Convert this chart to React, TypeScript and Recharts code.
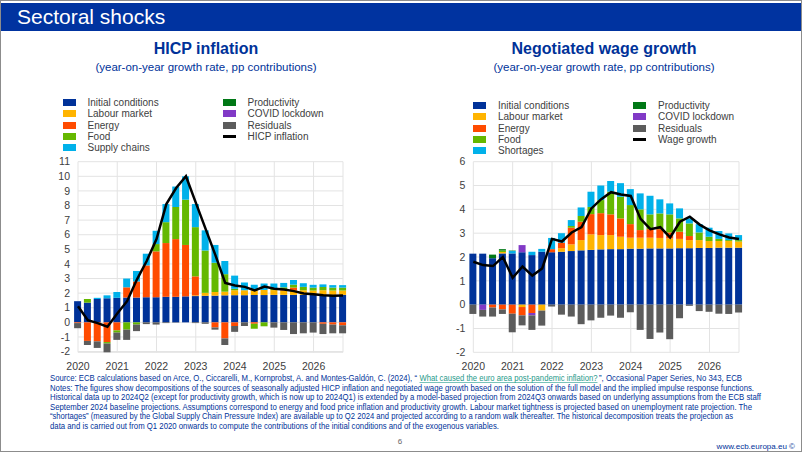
import { ComposedChart, Bar, Line, XAxis, YAxis, CartesianGrid } from 'recharts';

const quarters = [
  '2020Q1', '2020Q2', '2020Q3', '2020Q4', '2021Q1', '2021Q2', '2021Q3', '2021Q4',
  '2022Q1', '2022Q2', '2022Q3', '2022Q4', '2023Q1', '2023Q2', '2023Q3', '2023Q4',
  '2024Q1', '2024Q2', '2024Q3', '2024Q4', '2025Q1', '2025Q2', '2025Q3', '2025Q4',
  '2026Q1', '2026Q2', '2026Q3', '2026Q4',
];
const yearLabels = ['2020', '2021', '2022', '2023', '2024', '2025', '2026'];
const yearTicks = [0, 4, 8, 12, 16, 20, 24, 27];

// HICP inflation contributions
const hicpInitial = [1.45, 1.35, 1.6, 1.65, 1.68, 1.7, 1.7, 1.72, 1.72, 1.75, 1.75, 1.78, 1.8, 1.82, 1.83, 1.85, 1.86, 1.86, 1.87, 1.87, 1.88, 1.88, 1.88, 1.88, 1.88, 1.88, 1.88, 1.88];
const hicpLabour = [0, 0, 0, 0, 0, 0, 0, 0, 0, 0, 0, 0, 0.05, 0.2, 0.25, 0.25, 0.34, 0.34, 0.33, 0.35, 0.33, 0.3, 0.3, 0.32, 0.3, 0.32, 0.3, 0.3];
const hicpEnergy = [-0.05, -1.27, -1.3, -1.35, -0.55, 0.7, 1.1, 2.18, 3.14, 3.68, 3.95, 3.52, 1.3, 0, -0.35, -1.1, -0.25, 0, -0.1, 0, 0, 0.1, 0.2, 0, 0, -0.1, -0.15, -0.2];
const hicpFood = [0, 0.25, 0, -0.1, -0.15, -0.5, -0.15, 0, 0.5, 1.43, 2.2, 3.1, 3.37, 2.9, 2.0, 1.2, 0.1, 0, -0.33, -0.27, 0.1, 0.12, 0.2, 0.23, 0.2, 0.22, 0.2, 0.2];
const hicpSupply = [0, 0, 0.08, 0.2, 0.4, 0.6, 0.72, 0.8, 0.91, 1.24, 1.4, 1.6, 1.58, 1.38, 1.22, 0.9, 0.9, 0.53, 0.37, 0.44, 0.35, 0.3, 0.32, 0.25, 0.19, 0.18, 0.17, 0.17];
const hicpProductivity = [0, 0, 0, 0, 0, 0, 0, 0, 0, 0, 0, 0, 0, 0, 0, 0, 0, 0, 0, 0, 0, 0, 0, 0, 0, 0, 0, 0];
const hicpCovid = [0, 0, 0, 0, 0, 0, 0, 0, 0, 0, 0, 0, 0, 0, 0, 0, 0, 0, 0, 0, 0, 0, 0, 0, 0, 0, 0, 0];
const hicpResidual = [-0.35, -0.28, -0.45, -0.6, -0.5, -0.7, -0.45, -0.12, -0.15, -0.05, -0.02, 0, -0.05, -0.1, -0.15, -0.45, -0.4, -0.25, 0, 0, -0.36, -0.52, -0.8, -0.75, -0.7, -0.7, -0.6, -0.55];
const hicpLine = [1.1, 0.15, -0.05, -0.3, 0.6, 1.45, 2.93, 4.2, 5.7, 8.1, 9.2, 10.0, 8.2, 6.4, 4.6, 2.7, 2.52, 2.43, 2.18, 2.45, 2.3, 2.25, 2.14, 1.98, 1.93, 1.86, 1.82, 1.84];

// Negotiated wage growth contributions
const wageInitial = [2.14, 2.14, 1.95, 2.15, 2.15, 2.2, 2.08, 2.22, 2.2, 2.22, 2.25, 2.28, 2.3, 2.32, 2.33, 2.33, 2.35, 2.35, 2.36, 2.36, 2.36, 2.37, 2.37, 2.38, 2.38, 2.39, 2.39, 2.39];
const wageLabour = [0, 0, 0, 0.06, 0, -0.1, 0, -0.25, 0, 0.15, 0.28, 0.43, 0.65, 0.6, 0.59, 0.52, 0.46, 0.46, 0.45, 0.44, 0.42, 0.39, 0.34, 0.33, 0.29, 0.28, 0.28, 0.26];
const wageEnergy = [0, 0, -0.12, -0.2, -0.38, -0.35, -0.35, 0, 0.13, 0.23, 0.7, 0.77, 0.85, 0.92, 0.87, 0.77, 0.57, 0.32, 0.36, 0.37, 0.25, 0.3, 0.17, 0, 0, 0, 0, 0];
const wageFood = [0, 0, 0, 0.06, 0, 0, 0, 0, 0, 0, 0.07, 0.24, 0.3, 0.55, 0.95, 0.91, 0.8, 0.87, 0.62, 0.66, 0.76, 0.56, 0.53, 0.32, 0.18, 0.09, 0.04, 0.06];
const wageShortages = [0, 0, 0, 0, 0.1, 0, 0.14, 0.12, 0.47, 0.4, 0.25, 0.36, 0.64, 0.61, 0.45, 0.57, 0.67, 0.67, 0.78, 0.59, 0.46, 0.42, 0.21, 0.35, 0.38, 0.33, 0.28, 0.21];
const wageProductivity = [0, 0, 0.15, 0.06, 0.02, 0, 0, 0, 0, 0, 0, 0, 0, 0, 0, 0, 0, 0, 0, 0, 0, 0, 0, 0, 0, 0, 0, 0];
const wageCovid = [0, -0.22, 0, 0, 0, 0.3, -0.1, 0, 0, 0, 0, 0, 0, 0, 0, 0, 0, 0, 0, 0, 0, 0, 0, 0, 0, 0, 0, 0];
const wageResidual = [-0.39, -0.28, -0.38, -0.19, -0.78, -0.42, -0.61, -0.63, -0.08, -0.42, -0.5, -0.82, -0.66, -0.55, -0.46, -0.55, -0.32, -1.06, -1.44, -1.17, -1.45, -0.57, -0.05, -0.27, -0.3, -0.38, -0.39, -0.33];
const wageLine = [1.8, 1.66, 1.62, 2.0, 1.13, 1.6, 1.22, 1.52, 2.76, 2.65, 3.03, 3.26, 4.04, 4.43, 4.72, 4.62, 4.56, 3.6, 3.17, 3.25, 2.82, 3.48, 3.69, 3.36, 3.12, 2.95, 2.82, 2.76];

const hicpTicks = [-2, -1, 0, 1, 2, 3, 4, 5, 6, 7, 8, 9, 10, 11];
const wageTicks = [-2, -1, 0, 1, 2, 3, 4, 5, 6];

const C = {
  initial: '#003299',
  labour: '#ffb400',
  energy: '#ff4b00',
  food: '#65b800',
  supply: '#00b1ea',
  productivity: '#007816',
  covid: '#8139c6',
  residual: '#5c5c5c',
  line: '#000000',
};

const FONT = '"Liberation Sans", Arial, sans-serif';
const TEXT = '#404040';
const NAVY = '#003299';
const LINK = '#1f9a8a';

const hicpData = quarters.map((q, i) => ({
  i,
  q,
  initial: hicpInitial[i],
  labour: hicpLabour[i],
  energy: hicpEnergy[i],
  food: hicpFood[i],
  supply: hicpSupply[i],
  productivity: hicpProductivity[i],
  covid: hicpCovid[i],
  residual: hicpResidual[i],
  total: hicpLine[i],
}));

const wageData = quarters.map((q, i) => ({
  i,
  q,
  initial: wageInitial[i],
  labour: wageLabour[i],
  energy: wageEnergy[i],
  food: wageFood[i],
  supply: wageShortages[i],
  productivity: wageProductivity[i],
  covid: wageCovid[i],
  residual: wageResidual[i],
  total: wageLine[i],
}));

const barKeys = ['initial', 'labour', 'energy', 'food', 'supply', 'productivity', 'covid', 'residual'] as const;

const tickStyle = { fontSize: 10.5, fill: TEXT, fontFamily: FONT };

const DecompChart = ({ data, yTicks, marginLeft, marginRight }: any) => (
  <ComposedChart
    width={360}
    height={225}
    data={data}
    stackOffset="sign"
    margin={{ top: 11.7, right: marginRight, bottom: 2.7, left: marginLeft }}
  >
    <CartesianGrid stroke="#e3e3e3" strokeWidth={1} />
    <XAxis
      dataKey="i"
      type="number"
      domain={[0, 27]}
      ticks={yearTicks}
      tickFormatter={(v: number) => yearLabels[v / 4] ?? ''}
      interval={0}
      height={20}
      axisLine={false}
      tickLine={false}
      tickMargin={4}
      tick={tickStyle}
    />
    <YAxis
      type="number"
      domain={[yTicks[0], yTicks[yTicks.length - 1]]}
      ticks={yTicks}
      interval={0}
      width={40}
      axisLine={false}
      tickLine={false}
      tick={tickStyle}
    />
    {barKeys.map((k) => (
      <Bar key={k} dataKey={k} stackId="a" fill={C[k]} barSize={7} isAnimationActive={false} />
    ))}
    <Line
      type="linear"
      dataKey="total"
      stroke={C.line}
      strokeWidth={2.5}
      dot={false}
      isAnimationActive={false}
    />
  </ComposedChart>
);

const LegendItem = ({ color, label, line }: { color: string; label: string; line?: boolean }) => (
  <div style={{ display: 'flex', alignItems: 'center', height: 11.3 }}>
    <span
      style={{
        display: 'inline-block',
        width: 13,
        height: line ? 3 : 7,
        background: color,
        marginRight: 12,
      }}
    />
    <span>{label}</span>
  </div>
);

const ChartLegend = ({ left, top, lastBar, lineLabel }: any) => (
  <div
    style={{
      position: 'absolute',
      left,
      top,
      display: 'flex',
      fontFamily: FONT,
      fontSize: 10,
      color: TEXT,
      lineHeight: '11px',
    }}
  >
    <div style={{ width: 160 }}>
      <LegendItem color={C.initial} label="Initial conditions" />
      <LegendItem color={C.labour} label="Labour market" />
      <LegendItem color={C.energy} label="Energy" />
      <LegendItem color={C.food} label="Food" />
      <LegendItem color={C.supply} label={lastBar} />
    </div>
    <div>
      <LegendItem color={C.productivity} label="Productivity" />
      <LegendItem color={C.covid} label="COVID lockdown" />
      <LegendItem color={C.residual} label="Residuals" />
      <LegendItem color={C.line} label={lineLabel} line />
    </div>
  </div>
);

const ChartTitle = ({ cx, title }: { cx: number; title: string }) => (
  <>
    <div
      style={{
        position: 'absolute',
        left: cx - 150,
        width: 300,
        top: 40,
        textAlign: 'center',
        fontFamily: FONT,
        fontWeight: 'bold',
        fontSize: 16,
        color: NAVY,
      }}
    >
      {title}
    </div>
    <div
      style={{
        position: 'absolute',
        left: cx - 150,
        width: 300,
        top: 61,
        textAlign: 'center',
        fontFamily: FONT,
        fontSize: 11.5,
        color: NAVY,
      }}
    >
      (year-on-year growth rate, pp contributions)
    </div>
  </>
);

const sourceParts = [
  'Source: ECB calculations based on Arce, O., Ciccarelli, M., Kornprobst, A. and Montes-Galdón, C. (2024), \u201C',
  'What caused the euro area post-pandemic inflation?',
  '\u201D, Occasional Paper Series, No 343, ECB',
];
const noteLines = [
  'Notes: The figures show decompositions of the sources of seasonally adjusted HICP inflation and negotiated wage growth based on the solution of the full model and the implied impulse response functions.',
  'Historical data up to 2024Q2 (except for productivity growth, which is now up to 2024Q1) is extended by a model-based projection from 2024Q3 onwards based on underlying assumptions from the ECB staff',
  'September 2024 baseline projections. Assumptions correspond to energy and food price inflation and productivity growth. Labour market tightness is projected based on unemployment rate projection. The',
  '\u201Cshortages\u201D (measured by the Global Supply Chain Pressure Index) are available up to Q2 2024 and projected according to a random walk thereafter. The historical decomposition treats the projection as',
  'data and is carried out from Q1 2020 onwards to compute the contributions of the initial conditions and of the exogenous variables.',
];
const noteWidths = [704, 711, 702, 683, 449];

// condensed note text: small font stretched vertically, width fixed by textLength
const NoteText = ({ x, y, w, fill, children }: any) => (
  <g transform={`translate(${x} ${y}) scale(1 1.2)`}>
    <text x={0} y={0} fontSize={7} fill={fill} textLength={w} lengthAdjust="spacingAndGlyphs">
      {children}
    </text>
  </g>
);

export default function App() {
  return (
    <div
      style={{
        position: 'absolute',
        left: 0,
        top: 0,
        width: 802,
        height: 452,
        background: '#fff',
        overflow: 'hidden',
        fontFamily: FONT,
      }}
    >
      <div
        style={{
          position: 'absolute',
          left: 0,
          top: 0,
          width: 800,
          height: 450,
          border: '1px solid #8c8c8c',
        }}
      />
      <div
        style={{
          position: 'absolute',
          left: 1,
          top: 2.5,
          width: 800,
          height: 28.5,
          background: '#0033a0',
        }}
      />
      <div
        style={{
          position: 'absolute',
          left: 17,
          top: 4,
          fontFamily: FONT,
          fontSize: 21,
          lineHeight: '26px',
          color: '#fff',
        }}
      >
        Sectoral shocks
      </div>

      <ChartTitle cx={206} title="HICP inflation" />
      <ChartTitle cx={604} title="Negotiated wage growth" />

      <ChartLegend left={62.5} top={97} lastBar="Supply chains" lineLabel="HICP inflation" />
      <ChartLegend left={473} top={100} lastBar="Shortages" lineLabel="Wage growth" />

      <div style={{ position: 'absolute', left: 0, top: 150 }}>
        <DecompChart data={hicpData} yTicks={hicpTicks} marginLeft={38} marginRight={17} />
      </div>
      <div style={{ position: 'absolute', left: 400, top: 150 }}>
        <DecompChart data={wageData} yTicks={wageTicks} marginLeft={33.3} marginRight={21} />
      </div>

      <svg
        width={802}
        height={452}
        style={{ position: 'absolute', left: 0, top: 0, pointerEvents: 'none' }}
        fontFamily={FONT}
      >
        <NoteText x={50} y={381} w={367} fill={NAVY}>
          {sourceParts[0]}
        </NoteText>
        <NoteText x={419.5} y={381} w={178} fill={LINK}>
          {sourceParts[1]}
        </NoteText>
        <line x1={419.5} x2={597.5} y1={382.5} y2={382.5} stroke={LINK} strokeWidth={0.6} />
        <NoteText x={599} y={381} w={143} fill={NAVY}>
          {sourceParts[2]}
        </NoteText>
        {noteLines.map((t, k) => (
          <NoteText key={k} x={50} y={390.5 + k * 9.5} w={noteWidths[k]} fill={NAVY}>
            {t}
          </NoteText>
        ))}
        <text x={400} y={444} fontSize={8} fill="#666" textAnchor="middle">
          6
        </text>
        <text x={795} y={449} fontSize={8} fill={NAVY} textAnchor="end">
          www.ecb.europa.eu ©
        </text>
      </svg>
    </div>
  );
}
